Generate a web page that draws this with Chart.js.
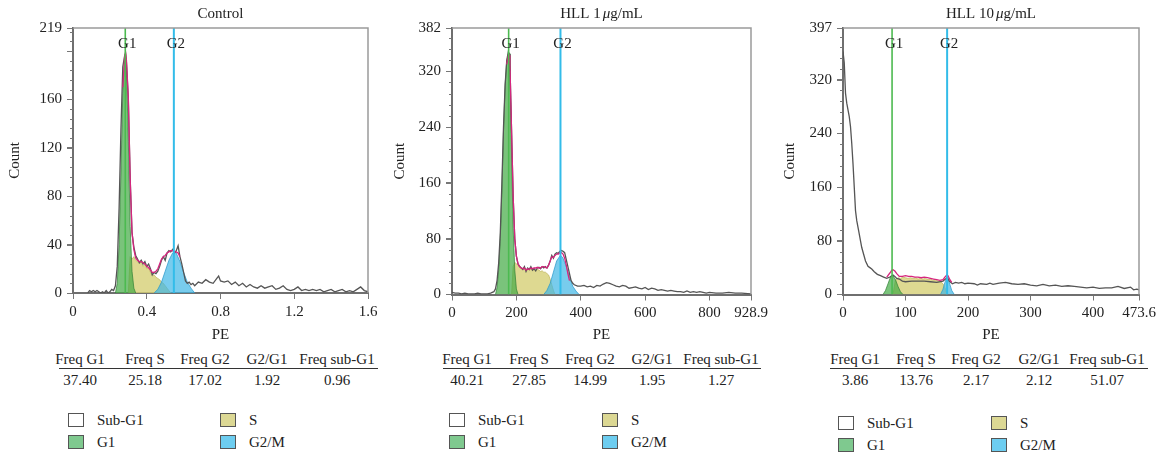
<!DOCTYPE html>
<html>
<head>
<meta charset="utf-8">
<script src="https://cdn.jsdelivr.net/npm/chart.js@4.4.1/dist/chart.umd.min.js"></script>
<style>
  body { margin: 0; background: #fff; width: 1164px; height: 455px; position: relative; overflow: hidden;
         font-family: "Liberation Serif", serif; color: #222; }
  .panel { position: absolute; top: 0; height: 350px; }
  .txt { position: absolute; font-size: 15px; white-space: nowrap; transform: translate(-50%, -50%); }
  .leg { position: absolute; font-size: 15px; white-space: nowrap; transform: translateY(-50%); }
  .rule { position: absolute; height: 0; border-top: 1.5px solid #333; }
  .box { position: absolute; width: 14px; height: 12px; border: 1.5px solid #555; }
</style>
</head>
<body>
<div class="panel" id="p0"><canvas id="c0"></canvas></div>
<div class="panel" id="p1"><canvas id="c1"></canvas></div>
<div class="panel" id="p2"><canvas id="c2"></canvas></div>
<script>
var titles = ['Control', 'HLL 1μg/mL', 'HLL 10μg/mL'];
var statHeaders = ['Freq G1', 'Freq S', 'Freq G2', 'G2/G1', 'Freq sub-G1'];
var phaseNames = ['Sub-G1', 'S', 'G1', 'G2/M'];
var gateNames = ['G1', 'G2'];

// Control
var ctrlXTicks = [0, 0.4, 0.8, 1.2, 1.6];
var ctrlYTicks = [0, 40, 80, 120, 160, 219];
var ctrlGates = [0.2835, 0.547];
var ctrlStats = ['37.40', '25.18', '17.02', '1.92', '0.96'];
var ctrlRawPE = [0.08, 0.09, 0.10, 0.11, 0.12, 0.13, 0.14, 0.15, 0.16, 0.17, 0.18, 0.19, 0.20, 0.21, 0.22, 0.23, 0.24, 0.25, 0.26, 0.27, 0.28,
  0.285, 0.29, 0.30, 0.31, 0.32, 0.33, 0.34, 0.35, 0.36, 0.37, 0.38, 0.39, 0.40, 0.41, 0.42, 0.43, 0.44, 0.45, 0.46, 0.47, 0.48,
  0.49, 0.50, 0.51, 0.52, 0.53, 0.54, 0.55, 0.56, 0.57, 0.58, 0.59, 0.60, 0.61, 0.62, 0.63, 0.64, 0.65, 0.66,
  0.68, 0.70, 0.72, 0.74, 0.76, 0.78, 0.79, 0.80, 0.82, 0.84, 0.86, 0.88, 0.90, 0.92, 0.94, 0.96, 0.98,
  1.00, 1.02, 1.04, 1.06, 1.08, 1.10, 1.12, 1.14, 1.16, 1.18, 1.20, 1.22, 1.24, 1.26, 1.28, 1.30, 1.32, 1.34, 1.36, 1.38,
  1.40, 1.42, 1.44, 1.46, 1.48, 1.50, 1.52, 1.54, 1.56, 1.58, 1.60];
var ctrlRawCount = [0, 2, 1, 2, 1, 2, 1, 0, 1, 0, 2, 0, 1, 3, 2, 6, 22, 70, 135, 187, 196,
  198, 190, 160, 95, 50, 38, 31, 28, 25, 27, 24, 26, 22, 24, 20, 15, 17, 16, 18, 22, 27,
  30, 27, 33, 35, 34, 36, 33, 35, 39, 30, 24, 17, 10, 8, 9, 7, 8, 6,
  9, 8, 11, 9, 8, 12, 14, 10, 9, 10, 7, 9, 6, 8, 5, 7, 5,
  4, 6, 4, 5, 6, 3, 4, 6, 3, 2, 3, 5, 2, 3, 2, 3, 2, 3, 1, 2,
  3, 1, 2, 3, 1, 2, 1, 3, 5, 2, 1];
var ctrlFitPE = [0.27, 0.28, 0.285, 0.29, 0.30, 0.31, 0.32, 0.33, 0.34, 0.35, 0.36, 0.37, 0.38, 0.39, 0.40, 0.41, 0.42, 0.43,
  0.44, 0.45, 0.46, 0.47, 0.48, 0.49, 0.50, 0.51, 0.52, 0.53, 0.54, 0.55, 0.56, 0.57, 0.58];
var ctrlFitCount = [170, 195, 199, 192, 162, 95, 50, 36, 29, 27, 26, 26, 25, 24, 22, 21, 19, 17,
  17, 18, 20, 24, 28, 30, 31, 33, 34, 35, 35, 34, 34, 33, 30];
var ctrlG1PE = [0.23, 0.24, 0.25, 0.26, 0.27, 0.28, 0.285, 0.29, 0.30, 0.31, 0.32, 0.33, 0.34];
var ctrlG1Count = [0, 8, 40, 100, 165, 195, 198, 185, 125, 55, 18, 4, 0];
var ctrlSPE = [0.30, 0.31, 0.32, 0.33, 0.34, 0.35, 0.36, 0.37, 0.38, 0.39, 0.40, 0.41, 0.42, 0.43, 0.44, 0.45, 0.46, 0.47,
  0.48, 0.49, 0.50, 0.51, 0.52, 0.53];
var ctrlSCount = [0, 30, 28, 30, 27, 26, 24, 26, 22, 24, 20, 21, 17, 14, 15, 13, 12, 11, 9, 8, 6, 4, 2, 0];
var ctrlG2PE = [0.44, 0.46, 0.48, 0.50, 0.52, 0.54, 0.55, 0.56, 0.58, 0.60, 0.62, 0.64, 0.66];
var ctrlG2Count = [0, 3, 9, 18, 27, 33, 34, 33, 26, 17, 9, 4, 0];

// HLL 1 ug/mL
var hll1XTicks = [0, 200, 400, 600, 800, 928.9];
var hll1YTicks = [0, 80, 160, 240, 320, 382];
var hll1Gates = [176, 337];
var hll1Stats = ['40.21', '27.85', '14.99', '1.95', '1.27'];
var hll1RawPE = [0, 10, 20, 30, 40, 50, 60, 70, 80, 90, 100, 110, 120, 130,
  135, 140, 145, 150, 155, 160, 165, 170, 175, 178, 180, 185, 190, 195, 200, 205, 210, 215, 220, 225,
  230, 235, 240, 245, 250, 255, 260, 265, 270, 275, 280, 285, 290, 295, 300, 305, 310, 315, 320, 325,
  330, 335, 340, 345, 350, 355, 360, 365, 370, 375, 380,
  390, 400, 410, 420, 430, 440, 450, 460, 470, 480, 490, 500, 510, 520, 530, 540, 550, 560, 570, 580,
  590, 600, 610, 620, 630, 640, 650, 660, 670, 680, 690, 700, 710, 720, 730, 740, 750, 760, 770, 780,
  790, 800, 820, 840, 860, 880, 900, 928.9];
var hll1RawCount = [3, 2, 2, 1, 2, 1, 1, 1, 2, 1, 1, 1, 2, 4,
  8, 20, 45, 88, 160, 240, 300, 335, 348, 345, 330, 235, 140, 80, 55, 44, 40, 38, 36, 40,
  33, 38, 36, 40, 35, 37, 34, 38, 39, 37, 40, 38, 40, 38, 42, 48, 56, 52, 58, 60,
  59, 62, 63, 62, 60, 50, 40, 30, 20, 16, 14,
  12, 12, 13, 11, 12, 10, 13, 12, 15, 17, 16, 14, 12, 11, 13, 12, 9, 10, 11, 9,
  8, 10, 7, 9, 8, 6, 7, 6, 5, 6, 5, 4, 4, 3, 5, 3, 4, 3, 4, 3,
  2, 3, 2, 2, 3, 2, 2, 1];
var hll1FitPE = [170, 175, 178, 180, 185, 190, 195, 200, 205, 210, 215, 220, 225, 230, 235, 240, 245, 250, 255, 260,
  265, 270, 275, 280, 285, 290, 295, 300, 305, 310, 315, 320, 325, 330, 335, 340, 345, 350, 355, 360, 365];
var hll1FitCount = [330, 342, 343, 330, 235, 140, 80, 55, 44, 40, 38, 37, 38, 35, 37, 36, 38, 37, 38, 38,
  39, 38, 38, 40, 40, 39, 38, 42, 48, 54, 53, 56, 58, 58, 60, 60, 58, 52, 42, 30, 20];
var hll1G1PE = [135, 140, 145, 150, 155, 160, 165, 170, 175, 178, 180, 185, 190, 195, 200, 205];
var hll1G1Count = [0, 10, 35, 80, 150, 235, 300, 335, 345, 345, 320, 200, 95, 35, 8, 0];
var hll1SPE = [185, 190, 195, 200, 205, 210, 215, 220, 225, 230, 235, 240, 245, 250, 255, 260, 265, 270, 275, 280,
  285, 290, 295, 300, 305, 310, 315, 320];
var hll1SCount = [0, 40, 46, 44, 42, 40, 38, 36, 39, 34, 37, 35, 38, 34, 36, 33, 36, 35, 33, 34,
  32, 32, 30, 28, 22, 14, 6, 0];
var hll1G2PE = [285, 295, 305, 315, 325, 335, 340, 345, 355, 365, 375, 385, 395];
var hll1G2Count = [0, 6, 16, 32, 48, 55, 55, 52, 40, 25, 12, 5, 0];

// HLL 10 ug/mL
var hll10XTicks = [0, 100, 200, 300, 400, 473.6];
var hll10YTicks = [0, 80, 160, 240, 320, 397];
var hll10Gates = [78.5, 166.6];
var hll10Stats = ['3.86', '13.76', '2.17', '2.12', '51.07'];
var hll10RawPE = [0, 2, 4, 6, 8, 10, 12, 14, 16, 18, 20, 22, 25, 28, 30, 33, 36, 40, 43, 46,
  50, 55, 60, 65, 70, 75, 78, 80, 83, 86, 90, 95, 100, 110, 120, 130, 140, 150, 160, 165,
  167, 170, 175, 180, 185, 190, 195, 200, 210, 215, 220, 230, 235, 240, 250, 260, 270, 280, 290, 300,
  310, 320, 330, 340, 350, 360, 370, 380, 390, 400, 410, 420, 430, 440, 450, 460, 465, 470, 473.6];
var hll10RawCount = [362, 345, 300, 285, 275, 265, 250, 225, 195, 160, 125, 110, 95, 80, 70, 60, 50, 42, 40, 38,
  34, 30, 28, 26, 24, 26, 28, 29, 27, 24, 23, 20, 19, 20, 20, 20, 19, 18, 20, 24,
  26, 20, 16, 18, 17, 18, 16, 17, 16, 14, 16, 15, 17, 15, 17, 18, 16, 15, 16, 14,
  13, 15, 13, 14, 12, 13, 12, 11, 10, 11, 9, 10, 10, 12, 9, 11, 7, 8, 7];
var hll10FitPE = [70, 75, 78, 80, 83, 86, 90, 95, 100, 105, 110, 115, 120, 125, 130, 135, 140, 145, 150, 155,
  160, 163, 166, 168, 171, 174];
var hll10FitCount = [26, 32, 36, 37, 35, 31, 27, 27, 28, 27, 27, 26, 26, 25, 26, 25, 24, 23, 22, 21,
  22, 26, 29, 28, 22, 18];
var hll10G1PE = [64, 68, 72, 76, 78, 80, 84, 88, 92, 96];
var hll10G1Count = [0, 6, 16, 26, 28, 28, 22, 12, 4, 0];
var hll10SPE = [80, 84, 88, 92, 96, 100, 104, 108, 112, 116, 120, 124, 128, 132, 136, 140, 144, 148, 152, 156,
  160, 164, 166];
var hll10SCount = [0, 22, 25, 24, 26, 25, 24, 25, 24, 25, 23, 24, 23, 24, 22, 23, 21, 22, 20, 19, 16, 8, 0];
var hll10G2PE = [156, 160, 163, 166, 168, 171, 174, 178];
var hll10G2Count = [0, 8, 18, 25, 24, 15, 6, 0];

function pts(xs, ys) {
  return xs.map(function (x, i) { return { x: x, y: ys[i] }; });
}

var panels = [
  { title: titles[0], xTicks: ctrlXTicks, yTicks: ctrlYTicks, gates: ctrlGates, stats: ctrlStats,
    raw: pts(ctrlRawPE, ctrlRawCount), fit: pts(ctrlFitPE, ctrlFitCount),
    g1: pts(ctrlG1PE, ctrlG1Count), s: pts(ctrlSPE, ctrlSCount), g2: pts(ctrlG2PE, ctrlG2Count) },
  { title: titles[1], xTicks: hll1XTicks, yTicks: hll1YTicks, gates: hll1Gates, stats: hll1Stats,
    raw: pts(hll1RawPE, hll1RawCount), fit: pts(hll1FitPE, hll1FitCount),
    g1: pts(hll1G1PE, hll1G1Count), s: pts(hll1SPE, hll1SCount), g2: pts(hll1G2PE, hll1G2Count) },
  { title: titles[2], xTicks: hll10XTicks, yTicks: hll10YTicks, gates: hll10Gates, stats: hll10Stats,
    raw: pts(hll10RawPE, hll10RawCount), fit: pts(hll10FitPE, hll10FitCount),
    g1: pts(hll10G1PE, hll10G1Count), s: pts(hll10SPE, hll10SCount), g2: pts(hll10G2PE, hll10G2Count) }
];

// page geometry for each panel (px, relative to the panel's left edge)
var geo = [
  { left: 0, width: 390, axisW: 73, padR: 22, bottom: 293, countPad: 6, minor: 8, major: 40,
    cols: [80, 145, 205, 267, 337], rule: [59, 378], legX: [68, 220], legY: [420, 442] },
  { left: 390, width: 385, axisW: 62, padR: 24, bottom: 294.5, countPad: 1, minor: 16, major: 80,
    cols: [77, 139, 200, 262, 331], rule: [53, 371], legX: [59, 212], legY: [420, 442] },
  { left: 775, width: 389, axisW: 68, padR: 25, bottom: 294.5, countPad: 6, minor: 16, major: 80,
    cols: [80, 141, 201, 264, 332], rule: [55, 373], legX: [63, 216], legY: [423, 445] }
];
var phaseColors = ['#ffffff', '#dcd894', '#7fc98f', '#6dcdf0'];

var FONT = '"Liberation Serif", "DejaVu Serif", serif';
Chart.defaults.font.family = FONT;
Chart.defaults.font.size = 15;
Chart.defaults.color = '#222';

var decor = {
  id: 'decor',
  afterDatasetsDraw: function (chart, args, o) {
    var a = chart.chartArea, c = chart.ctx, ys = chart.scales.y, xs = chart.scales.x;
    c.save();
    c.strokeStyle = '#9a9a9a';
    c.lineWidth = 1.5;
    c.beginPath();
    c.moveTo(a.left, a.top); c.lineTo(a.right, a.top); c.lineTo(a.right, a.bottom);
    c.stroke();
    c.strokeStyle = '#777';
    c.lineWidth = 1;
    for (var v = o.minor; v < ys.max; v += o.minor) {
      var py = Math.round(ys.getPixelForValue(v)) + 0.5;
      var len = v % o.major === 0 ? 6 : 3;
      c.beginPath(); c.moveTo(a.left - len, py); c.lineTo(a.left, py); c.stroke();
    }
    c.fillStyle = '#222';
    c.font = '15px ' + FONT;
    c.textAlign = 'center';
    c.textBaseline = 'middle';
    o.gates.forEach(function (g, i) {
      c.fillText(gateNames[i], xs.getPixelForValue(g) + 2, a.top + 16);
    });
    // title, with an italic mu
    var parts = o.title.split('μ');
    var w0 = c.measureText(parts[0]).width;
    var w2 = parts.length > 1 ? c.measureText(parts[1]).width : 0;
    c.font = 'italic 15px ' + FONT;
    var w1 = parts.length > 1 ? c.measureText('μ').width + 2 : 0;
    var x0 = (a.left + a.right) / 2 - (w0 + w1 + w2) / 2;
    c.textAlign = 'left';
    c.font = '15px ' + FONT;
    c.fillText(parts[0], x0, 14);
    if (parts.length > 1) {
      c.font = 'italic 15px ' + FONT;
      c.fillText('μ', x0 + w0 + 2, 14);
      c.font = '15px ' + FONT;
      c.fillText(parts[1], x0 + w0 + w1, 14);
    }
    c.restore();
  }
};

function area(data, fillColor, edge) {
  return { data: data, fill: 'origin', backgroundColor: fillColor, borderColor: edge, borderWidth: 0.8 };
}

panels.forEach(function (p, k) {
  var g = geo[k];
  var box = document.getElementById('p' + k);
  box.style.left = g.left + 'px';
  box.style.width = g.width + 'px';
  var yMax = p.yTicks[p.yTicks.length - 1];
  var xMax = p.xTicks[p.xTicks.length - 1];

  var ds = [
    Object.assign(area(p.s, 'rgba(214, 208, 118, 0.8)', 'rgba(190, 180, 90, 0.9)'), { order: 6 }),
    Object.assign(area(p.g1, 'rgba(70, 172, 72, 0.72)', 'rgba(50, 130, 55, 0.9)'), { order: 5 }),
    Object.assign(area(p.g2, 'rgba(62, 182, 230, 0.7)', 'rgba(40, 150, 200, 0.9)'), { order: 4 }),
    { data: p.raw, borderColor: '#555', borderWidth: 1.3, fill: false, order: 3 },
    { data: p.fit, borderColor: '#d6267e', borderWidth: 1.3, fill: false, order: 2 },
    { data: [{ x: p.gates[0], y: 0 }, { x: p.gates[0], y: yMax }], borderColor: '#4cba50', borderWidth: 1.6, fill: false, order: 1 },
    { data: [{ x: p.gates[1], y: 0 }, { x: p.gates[1], y: yMax }], borderColor: '#33bce9', borderWidth: 2, fill: false, order: 0 }
  ];

  new Chart(document.getElementById('c' + k), {
    type: 'line',
    data: { datasets: ds },
    plugins: [decor],
    options: {
      responsive: true,
      maintainAspectRatio: false,
      animation: false,
      devicePixelRatio: 1,
      layout: { padding: { top: 28, right: g.padR, left: 0, bottom: 0 } },
      elements: { point: { radius: 0 }, line: { tension: 0 } },
      plugins: {
        legend: { display: false },
        tooltip: { enabled: false },
        decor: { title: p.title, gates: p.gates, minor: g.minor, major: g.major }
      },
      scales: {
        x: {
          type: 'linear', min: 0, max: xMax,
          afterBuildTicks: function (s) { s.ticks = p.xTicks.map(function (v) { return { value: v }; }); },
          afterFit: function (s) { s.height = 350 - g.bottom; },
          ticks: { autoSkip: false, maxRotation: 0, padding: 4, color: '#222', callback: function (v) { return String(v); } },
          grid: { drawOnChartArea: false, drawTicks: true, tickLength: 6, color: '#777' },
          border: { display: true, color: '#6f6f6f', width: 2 },
          title: { display: true, text: 'PE', color: '#222', padding: { top: 0, bottom: 6 } }
        },
        y: {
          type: 'linear', min: 0, max: yMax,
          afterBuildTicks: function (s) { s.ticks = p.yTicks.map(function (v) { return { value: v }; }); },
          afterFit: function (s) { s.width = g.axisW; },
          ticks: { autoSkip: false, padding: 5, color: '#222', callback: function (v) { return String(v); } },
          grid: { drawOnChartArea: false, drawTicks: true, tickLength: 6, color: '#777' },
          border: { display: true, color: '#6f6f6f', width: 2 },
          title: { display: true, text: 'Count', color: '#222', padding: { top: g.countPad, bottom: 0 } }
        }
      }
    }
  });

  // statistics table and phase legend below the plot
  function put(cls, x, y, text) {
    var d = document.createElement('div');
    d.className = cls;
    d.style.left = (g.left + x) + 'px';
    d.style.top = y + 'px';
    d.textContent = text;
    document.body.appendChild(d);
    return d;
  }
  statHeaders.forEach(function (h, i) {
    put('txt', g.cols[i], 359, h);
    put('txt', g.cols[i], 380, p.stats[i]);
  });
  var r = put('rule', g.rule[0], 368, '');
  r.style.width = (g.rule[1] - g.rule[0]) + 'px';
  phaseNames.forEach(function (n, i) {
    var col = i % 2, row = Math.floor(i / 2);
    var b = put('box', g.legX[col], g.legY[row] - 7, '');
    b.style.background = phaseColors[i];
    put('leg', g.legX[col] + 29, g.legY[row], n);
  });
});
</script>
</body>
</html>
